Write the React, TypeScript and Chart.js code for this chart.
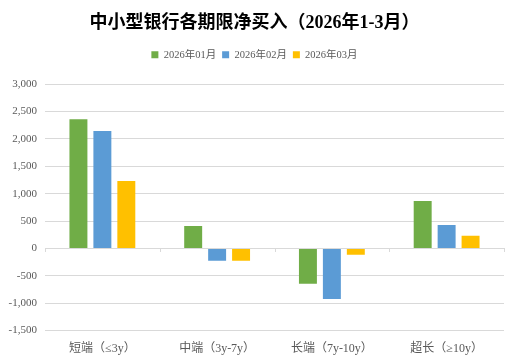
import React, { useEffect, useRef } from "react";
import { Chart, registerables } from "chart.js";

Chart.register(...registerables);

const TITLE = "中小型银行各期限净买入（2026年1-3月）";
const categories = ["短端（≤3y）", "中端（3y-7y）", "长端（7y-10y）", "超长（≥10y）"];
const seriesNames = ["2026年01月", "2026年02月", "2026年03月"];
const jan = [2360, 410, -645, 865];
const feb = [2145, -225, -925, 430];
const mar = [1230, -225, -115, 230];
const colors = ["#70AD47", "#5B9BD5", "#FFC000"];
const yTicksMin = -1500;
const yTicksMax = 3000;
const yStep = 500;

const SERIF = '"Liberation Serif", "Times New Roman", "Noto Sans CJK SC", serif';

const zeroTicks = {
  id: "zeroTicks",
  afterDatasetsDraw(chart: any) {
    const { ctx, chartArea, scales } = chart;
    const y0 = scales.y.getPixelForValue(0);
    const n = categories.length;
    const w = (chartArea.right - chartArea.left) / n;
    ctx.save();
    ctx.strokeStyle = "#d9d9d9";
    ctx.lineWidth = 1;
    ctx.beginPath();
    ctx.moveTo(chartArea.left, Math.round(y0) + 0.5);
    ctx.lineTo(chartArea.right, Math.round(y0) + 0.5);
    for (let i = 0; i <= n; i++) {
      const x = Math.round(chartArea.left + i * w) + 0.5;
      ctx.moveTo(x, Math.round(y0));
      ctx.lineTo(x, Math.round(y0) + 4);
    }
    ctx.stroke();
    ctx.restore();
  },
};

const legendGap = {
  id: "legendGap",
  beforeInit(chart: any) {
    const orig = chart.legend.fit;
    chart.legend.fit = function () {
      orig.bind(chart.legend)();
      this.height += 14;
    };
  },
};

export default function App() {
  const ref = useRef<HTMLCanvasElement>(null);
  useEffect(() => {
    document.body.style.margin = "0";
    const chart = new Chart(ref.current!, {
      type: "bar",
      data: {
        labels: categories,
        datasets: [jan, feb, mar].map((d, i) => ({
          label: seriesNames[i],
          data: d,
          backgroundColor: colors[i],
          borderWidth: 0,
          categoryPercentage: 0.626,
          barPercentage: 0.75,
        })),
      },
      options: {
        animation: false,
        responsive: false,
        maintainAspectRatio: false,
        layout: { padding: { left: 5, right: 15, top: 0, bottom: 4 } },
        plugins: {
          title: {
            display: true,
            text: TITLE,
            color: "#000000",
            font: { family: SERIF, size: 18, weight: "bold" },
            padding: { top: 13, bottom: 9 },
          },
          legend: {
            display: true,
            labels: {
              color: "#595959",
              font: { family: SERIF, size: 10.5 },
              boxWidth: 7,
              boxHeight: 7,
              padding: 6,
            },
          },
          tooltip: { enabled: false },
        },
        scales: {
          x: {
            grid: { display: false },
            border: { display: false },
            ticks: {
              color: "#595959",
              font: { family: SERIF, size: 12 },
              padding: 3,
              maxRotation: 0,
            },
          },
          y: {
            min: yTicksMin,
            max: yTicksMax,
            border: { display: false },
            grid: { color: "#d9d9d9", drawTicks: false },
            ticks: {
              stepSize: yStep,
              color: "#595959",
              font: { family: SERIF, size: 11 },
              padding: 8,
            },
            afterFit: (s: any) => {
              s.width = 40;
            },
          },
        },
      },
      plugins: [zeroTicks, legendGap],
    });
    return () => chart.destroy();
  }, []);
  return (
    <div style={{ position: "fixed", left: 0, top: 0, width: 519, height: 363 }}>
      <canvas ref={ref} width={519} height={363} />
    </div>
  );
}
